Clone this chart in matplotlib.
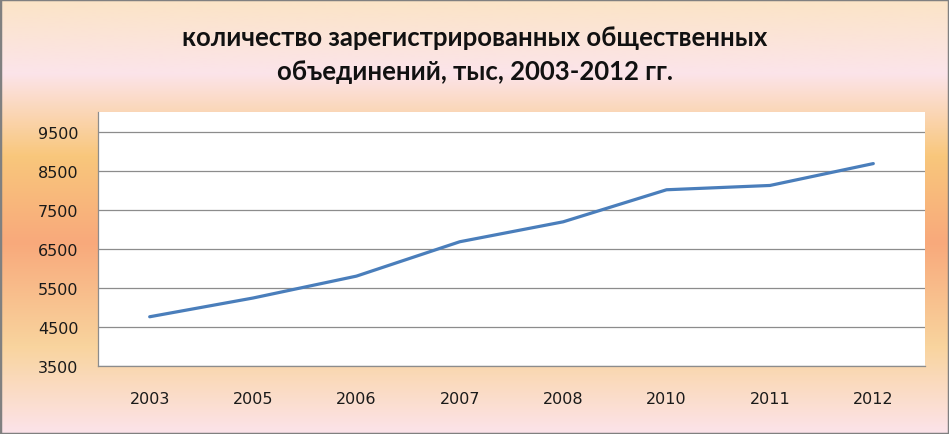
import numpy as np
import matplotlib.pyplot as plt
from matplotlib.colors import LinearSegmentedColormap
from matplotlib.patches import Rectangle

# данные
years = ['2003', '2005', '2006', '2007', '2008', '2010', '2011', '2012']
counts = [4760, 5240, 5800, 6680, 7190, 8010, 8120, 8680]
y_ticks = [3500, 4500, 5500, 6500, 7500, 8500, 9500]
title = 'количество зарегистрированных общественных\nобъединений, тыс, 2003-2012 гг.'

W, H = 949, 435
fig = plt.figure(figsize=(W / 100, H / 100), dpi=100)

# фон с градиентом
bg = fig.add_axes([0, 0, 1, 1], zorder=0)
grad = LinearSegmentedColormap.from_list('sunset', [
    (0.00, '#fbe4c6'),
    (0.17, '#fce4ea'),
    (0.36, '#f9c77c'),
    (0.56, '#f8a97b'),
    (0.80, '#f9d49e'),
    (1.00, '#fce3ea'),
])
bg.imshow(np.linspace(0, 1, 256).reshape(-1, 1), aspect='auto', cmap=grad,
          extent=[0, 1, 1, 0])
bg.set_xlim(0, 1)
bg.set_ylim(1, 0)
bg.axis('off')
bg.add_patch(Rectangle((0, 0), 1, 1, transform=bg.transAxes, fill=False,
                       edgecolor='#808080', linewidth=2.5))

# график
ax = fig.add_axes([98 / W, 1 - 367 / H, (925 - 98) / W, (367 - 113) / H], zorder=1)
ax.set_facecolor('white')
x = np.arange(len(years))
ax.plot(x, counts, color='#4a7ebb', linewidth=2.3, solid_capstyle='round')
ax.set_xlim(-0.5, len(years) - 0.5)
ax.set_ylim(3500, 10000)
ax.set_yticks(y_ticks)
ax.set_xticks(x)
ax.set_xticklabels(years)
ax.grid(axis='y', color='#8c8c8c', linewidth=0.9)
ax.set_axisbelow(True)
ax.tick_params(length=0, labelsize=11.5, colors='#1a1a1a')
ax.tick_params(axis='x', pad=18)
ax.tick_params(axis='y', pad=14)
for s in ['top', 'right']:
    ax.spines[s].set_visible(False)
for s in ['left', 'bottom']:
    ax.spines[s].set_color('#8c8c8c')
    ax.spines[s].set_linewidth(0.9)

fig.text(475 / W, 1 - 55 / H, title, ha='center', va='center', fontsize=18.5,
         fontweight='bold', family='Lato', linespacing=1.45, color='#111111')

fig.savefig('out.png', dpi=100)
